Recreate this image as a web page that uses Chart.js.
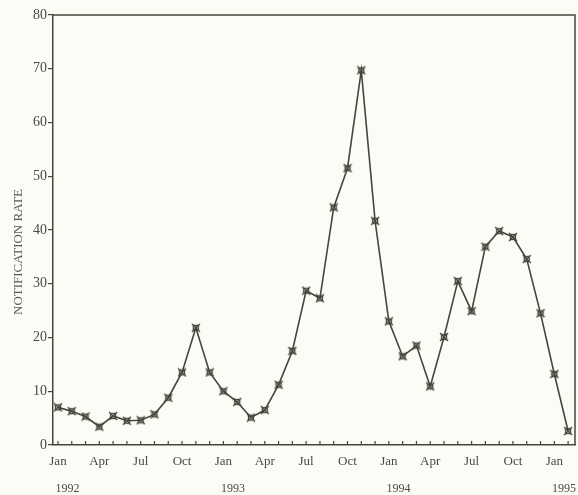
<!DOCTYPE html>
<html>
<head>
<meta charset="utf-8">
<script src="https://cdn.jsdelivr.net/npm/chart.js@4.4.1/dist/chart.umd.min.js"></script>
<style>
  html, body { margin: 0; padding: 0; background: #fcfcf6; }
</style>
</head>
<body>
<canvas id="rateChart" width="578" height="495"></canvas>
<script>
// data: monthly notification rate, Jan 1992 - Feb 1995
const monthNames = ['Jan', 'Feb', 'Mar', 'Apr', 'May', 'Jun', 'Jul', 'Aug', 'Sep', 'Oct', 'Nov', 'Dec'];
const years = ['1992', '1993', '1994', '1995'];
const rates = [
    7.0, 6.3, 5.3, 3.4, 5.4, 4.5, 4.6, 5.7, 8.8, 13.5, 21.8, 13.5,      // 1992
    10.0, 8.0, 5.1, 6.5, 11.2, 17.5, 28.7, 27.3, 44.2, 51.5, 69.7, 41.7, // 1993
    23.0, 16.5, 18.5, 10.9, 20.1, 30.5, 24.9, 36.9, 39.8, 38.7, 34.6, 24.5, // 1994
    13.2, 2.6                                                             // 1995
];
const labelMonths = ['Jan', 'Apr', 'Jul', 'Oct'];
const yTicks = [0, 10, 20, 30, 40, 50, 60, 70, 80];

const ink = '#46463f';
const serif = "'Liberation Serif', 'DejaVu Serif', serif";

const monthLabels = rates.map((_, i) => monthNames[i % 12]);
const points = rates.map((v, i) => ({ x: i, y: v }));

// little crossed marker like the printed symbol
const marker = document.createElement('canvas');
marker.width = 10;
marker.height = 10;
const mctx = marker.getContext('2d');
mctx.strokeStyle = ink;
mctx.lineWidth = 1.3;
mctx.beginPath();
mctx.moveTo(1, 1); mctx.lineTo(9, 9);
mctx.moveTo(9, 1); mctx.lineTo(1, 9);
mctx.stroke();
mctx.strokeRect(2.5, 2.5, 5, 5);

// frame, inward month ticks, year row and rotated axis title
const extras = {
    id: 'extras',
    afterDraw(chart) {
        const { ctx, chartArea: a, scales: { x } } = chart;
        ctx.save();
        ctx.strokeStyle = ink;
        ctx.lineWidth = 1.5;
        ctx.beginPath();
        ctx.moveTo(a.left, a.top);
        ctx.lineTo(a.right, a.top);
        ctx.lineTo(a.right, a.bottom);
        ctx.stroke();

        ctx.lineWidth = 1.2;
        ctx.beginPath();
        monthLabels.forEach((_, i) => {
            const px = x.getPixelForValue(i);
            ctx.moveTo(px, a.bottom);
            ctx.lineTo(px, a.bottom - 4);
        });
        ctx.stroke();

        ctx.fillStyle = '#4a4a44';
        ctx.font = '12px ' + serif;
        ctx.textAlign = 'center';
        ctx.textBaseline = 'middle';
        years.forEach((yr, k) => {
            ctx.fillText(yr, x.getPixelForValue(k * 12 + 0.7), 489);
        });

        ctx.translate(19, 252);
        ctx.rotate(-Math.PI / 2);
        ctx.font = '13px ' + serif;
        ctx.fillStyle = '#5a5a54';
        ctx.fillText('NOTIFICATION RATE', 0, 0);
        ctx.restore();
    }
};

new Chart(document.getElementById('rateChart'), {
    type: 'line',
    data: {
        datasets: [{
            data: points,
            borderColor: ink,
            borderWidth: 1.6,
            tension: 0,
            pointStyle: marker,
            pointRadius: 5,
        }]
    },
    options: {
        responsive: false,
        animation: false,
        layout: { autoPadding: false, padding: { top: 15, right: 3, left: 0, bottom: 0 } },
        plugins: {
            legend: { display: false },
            tooltip: { enabled: false },
        },
        scales: {
            x: {
                type: 'linear',
                min: -0.36,
                max: 37.5,
                afterBuildTicks: (scale) => {
                    scale.ticks = monthLabels.map((_, i) => ({ value: i }));
                },
                afterFit: (scale) => {
                    scale.height = 50;
                    scale.paddingRight = 0;
                },
                grid: { display: false, drawTicks: false },
                border: { color: ink, width: 1.5 },
                ticks: {
                    autoSkip: false,
                    maxRotation: 0,
                    padding: 9,
                    color: '#4a4a44',
                    font: { family: serif, size: 13 },
                    callback: (v) => {
                        const m = monthLabels[v];
                        return labelMonths.includes(m) && v % 3 === 0 ? m : '';
                    },
                },
            },
            y: {
                min: 0,
                max: 80,
                afterBuildTicks: (scale) => {
                    scale.ticks = yTicks.map(v => ({ value: v }));
                },
                afterFit: (scale) => { scale.width = 53; },
                grid: { drawOnChartArea: false, tickLength: 5, color: ink, lineWidth: 1.2 },
                border: { color: ink, width: 1.5 },
                ticks: {
                    padding: 1,
                    color: '#4a4a44',
                    font: { family: serif, size: 14 },
                },
            },
        },
    },
    plugins: [extras],
});
</script>
</body>
</html>
